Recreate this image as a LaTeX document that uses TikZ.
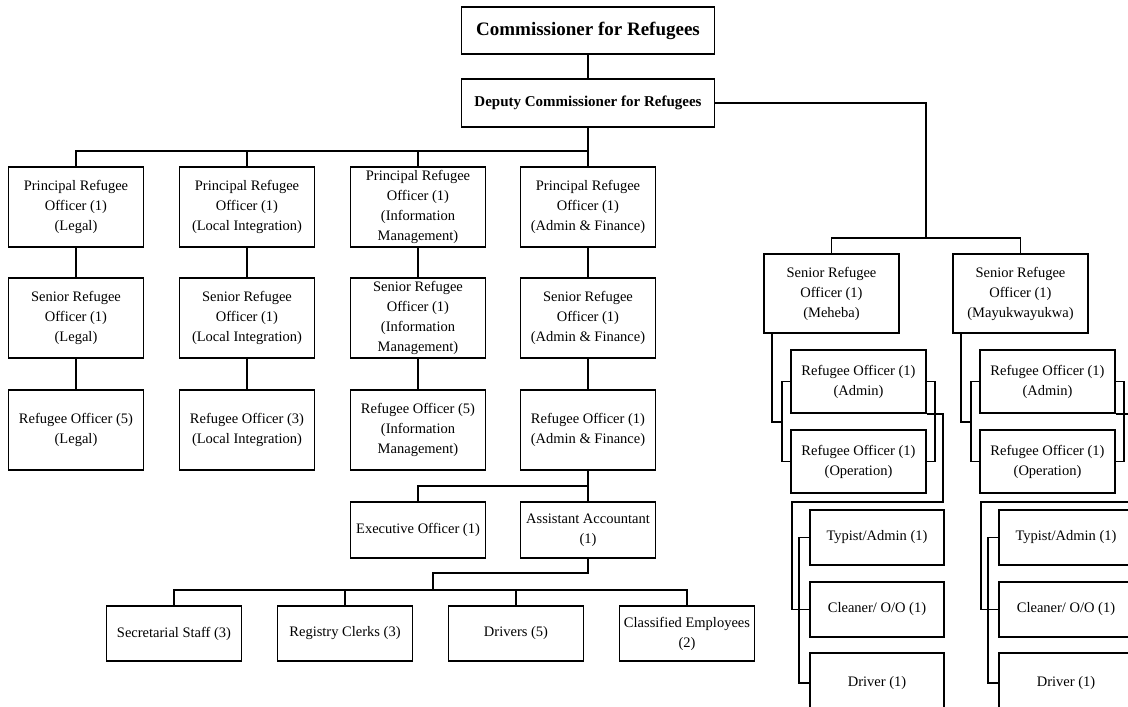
\documentclass[tikz,border=0pt]{standalone}
\usepackage{fontspec}
\setmainfont{Liberation Serif}
\usetikzlibrary{calc}
\begin{document}
\begin{tikzpicture}[x=1pt,y=-1pt,
  box/.style={draw, line width=1.6pt, align=center, inner sep=0pt,
    minimum width=135pt, font=\fontsize{14.5}{20}\selectfont},
  tall/.style={box, minimum height=80pt},
  mid/.style={box, minimum height=63pt},
  low/.style={box, minimum height=55pt},
  wire/.style={line width=1.6pt},
]
\useasboundingbox (0,0) rectangle (1128,707);
\clip (0,0) rectangle (1128,707);
\fill[white] (0,0) rectangle (1128,707);

% --- head office ---
\node[box, minimum width=253pt, minimum height=47pt, font=\bfseries\fontsize{19}{22}\selectfont]
  (comm) at (588,30.5) {Commissioner for Refugees};
\node[box, minimum width=253pt, minimum height=48pt, font=\bfseries\fontsize{15}{18}\selectfont]
  (dep) at (588,103) {Deputy Commissioner for Refugees};

% --- principal officers ---
\node[tall] (p1) at (76,207)  {Principal Refugee\\Officer (1)\\(Legal)};
\node[tall] (p2) at (247,207) {Principal Refugee\\Officer (1)\\(Local Integration)};
\node[tall] (p3) at (418,207) {Principal Refugee\\Officer (1)\\(Information\\Management)};
\node[tall] (p4) at (588,207) {Principal Refugee\\Officer (1)\\(Admin \& Finance)};

% --- senior officers ---
\node[tall] (s1) at (76,318)  {Senior Refugee\\Officer (1)\\(Legal)};
\node[tall] (s2) at (247,318) {Senior Refugee\\Officer (1)\\(Local Integration)};
\node[tall] (s3) at (418,318) {Senior Refugee\\Officer (1)\\(Information\\Management)};
\node[tall] (s4) at (588,318) {Senior Refugee\\Officer (1)\\(Admin \& Finance)};

% --- refugee officers ---
\node[tall] (r1) at (76,430)  {Refugee Officer (5)\\(Legal)};
\node[tall] (r2) at (247,430) {Refugee Officer (3)\\(Local Integration)};
\node[tall] (r3) at (418,430) {Refugee Officer (5)\\(Information\\Management)};
\node[tall] (r4) at (588,430) {Refugee Officer (1)\\(Admin \& Finance)};

% --- admin & finance support ---
\node[box, minimum height=56pt] (exec) at (418,530) {Executive Officer (1)};
\node[box, minimum height=56pt] (aa)   at (588,530) {Assistant Accountant\\(1)};

\node[low] (b1) at (174,633.5) {Secretarial Staff (3)};
\node[low] (b2) at (345,633.5) {Registry Clerks (3)};
\node[low] (b3) at (516,633.5) {Drivers (5)};
\node[low] (b4) at (687,633.5) {Classified Employees\\(2)};

% --- camps ---
\node[box, minimum height=79pt] (sM) at (831.5,293.5) {Senior Refugee\\Officer (1)\\(Meheba)};
\node[box, minimum height=79pt] (sY) at (1020.5,293.5) {Senior Refugee\\Officer (1)\\(Mayukwayukwa)};

\node[mid] (aM) at (858.5,381.5) {Refugee Officer (1)\\(Admin)};
\node[mid] (oM) at (858.5,461.5) {Refugee Officer (1)\\(Operation)};
\node[mid] (aY) at (1047.5,381.5) {Refugee Officer (1)\\(Admin)};
\node[mid] (oY) at (1047.5,461.5) {Refugee Officer (1)\\(Operation)};

\node[low, minimum width=134pt] (tM) at (877,537.5) {Typist/Admin (1)};
\node[low, minimum width=134pt] (cM) at (877,609.5) {Cleaner/ O/O (1)};
\node[low, minimum width=134pt, minimum height=60pt] (dM) at (877,683) {Driver (1)};
\node[low, minimum width=134pt] (tY) at (1066,537.5) {Typist/Admin (1)};
\node[low, minimum width=134pt] (cY) at (1066,609.5) {Cleaner/ O/O (1)};
\node[low, minimum width=134pt, minimum height=60pt] (dY) at (1066,683) {Driver (1)};

% --- connectors: head office ---
\draw[wire] (comm) -- (dep);
\coordinate (busP) at (588,151);
\draw[wire] (dep.south) -- (busP);
\draw[wire] (busP) -| (p1.north);
\draw[wire] (busP) -| (p2.north);
\draw[wire] (busP) -| (p3.north);
\draw[wire] (busP) -- (p4.north);

\foreach \c in {1,2,3,4}{
  \draw[wire] (p\c) -- (s\c);
  \draw[wire] (s\c) -- (r\c);
}

\coordinate (busE) at (588,486);
\draw[wire] (r4.south) -- (busE);
\draw[wire] (busE) -| (exec.north);
\draw[wire] (busE) -- (aa.north);

\coordinate (busBk) at (433,573);
\coordinate (busB) at (433,590);
\draw[wire] (aa.south) |- (busBk) -- (busB);
\foreach \c in {1,2,3,4}{
  \draw[wire] (busB) -| (b\c.north);
}

% --- connectors: camps ---
\coordinate (hubR) at (926,238);
\draw[wire] (dep.east) -| (hubR);
\draw[wire] (hubR) -| (sM.north);
\draw[wire] (hubR) -| (sY.north);

% Meheba
\coordinate (mL) at (782,422);
\coordinate (mR) at (935,413);
\coordinate (mCorner) at (943,502);
\coordinate (mTopL) at (792,502);
\draw[wire] ($(sM.south west)+(9,0)$) |- (mL);
\draw[wire] (aM.west) -| (mL);
\draw[wire] (oM.west) -| (mL);
\draw[wire] (aM.east) -| (mR);
\draw[wire] (oM.east) -| (mR);
\draw[wire] (aM.south east) -| (mCorner) -- (mTopL) |- (cM.west);
\draw[wire] (tM.west) -- ++(-10,0) |- (dM.west);

% Mayukwayukwa
\coordinate (yL) at (971,422);
\coordinate (yR) at (1124,413);
\coordinate (yCorner) at (1132,502);
\coordinate (yTopL) at (981,502);
\draw[wire] ($(sY.south west)+(9,0)$) |- (yL);
\draw[wire] (aY.west) -| (yL);
\draw[wire] (oY.west) -| (yL);
\draw[wire] (aY.east) -| (yR);
\draw[wire] (oY.east) -| (yR);
\draw[wire] (aY.south east) -| (yCorner) -- (yTopL) |- (cY.west);
\draw[wire] (tY.west) -- ++(-10,0) |- (dY.west);
\end{tikzpicture}
\end{document}
